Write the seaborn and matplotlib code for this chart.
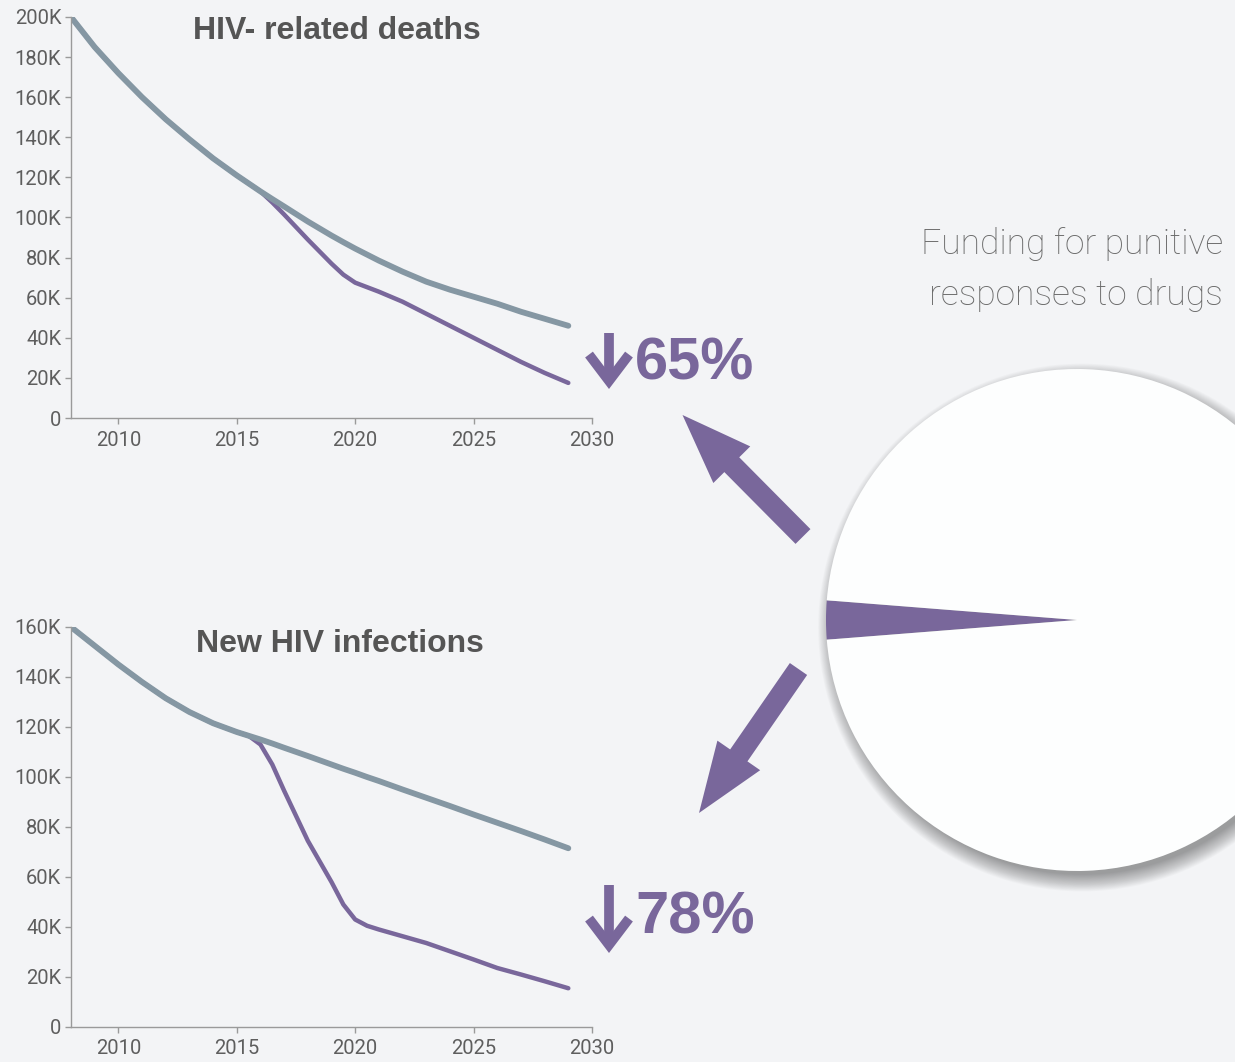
import matplotlib
matplotlib.use("Agg")
import matplotlib.pyplot as plt
import seaborn as sns
import pandas as pd
from matplotlib.patches import FancyArrow, Circle
from matplotlib.ticker import FuncFormatter

# data (values in thousands)
death_years = [2008, 2009, 2010, 2011, 2012, 2013, 2014, 2015, 2016, 2016.5, 2017, 2018,
               2019, 2019.5, 2020, 2021, 2022, 2023, 2024, 2025, 2026, 2027, 2028, 2029]
deaths_no_change = [200, 185, 172, 160, 149, 139, 129.5, 121, 113, 109.2, 105.5, 98,
                    91, 87.7, 84.5, 78.5, 73, 68, 64, 60.5, 57, 53, 49.5, 46]
deaths_reform = [200, 185, 172, 160, 149, 139, 129.5, 121, 113, 107.5, 101.5, 89,
                 77, 71.5, 67.5, 63, 58, 52, 46, 40, 34, 28, 22.5, 17.5]

inf_years = [2008, 2009, 2010, 2011, 2012, 2013, 2014, 2015, 2015.5, 2016, 2016.5, 2017,
             2018, 2019, 2019.5, 2020, 2020.5, 2021, 2022, 2023, 2024, 2025, 2026,
             2027, 2028, 2029]
inf_no_change = [160, 152.5, 145, 138, 131.5, 126, 121.5, 118, 116.5, 115, 113.4, 111.7,
                 108.4, 105, 103.3, 101.7, 100, 98.4, 95, 91.7, 88.4, 85, 81.7,
                 78.4, 75, 71.5]
inf_reform = [160, 152.5, 145, 138, 131.5, 126, 121.5, 118, 116.5, 113, 105, 94.5,
              74.5, 58, 49, 43, 40.5, 39, 36.3, 33.6, 30.3, 27, 23.6,
              21, 18.3, 15.5]

pie_shares = [2.5, 97.5]
pct_labels = ["65%", "78%"]
titles = ["HIV- related deaths", "New HIV infections"]
x_ticks = [2010, 2015, 2020, 2025, 2030]

bg = "#f3f4f6"
purple = "#79679b"
grey_line = "#8597a3"
W, H = 1235, 1062

sns.set_theme(style="ticks", rc={"axes.facecolor": bg, "figure.facecolor": bg})
plt.rcParams["font.family"] = ["Roboto", "DejaVu Sans"]

fig = plt.figure(figsize=(W / 100, H / 100), dpi=100)


def kfmt(v, pos):
    return "0" if v == 0 else f"{int(v / 1000)}K"


def line_panel(rect, years, base, reform, ymax, ystep):
    ax = fig.add_axes(rect)
    df = pd.DataFrame({"year": years,
                       "no_change": [v * 1000 for v in base],
                       "reform": [v * 1000 for v in reform]})
    sns.lineplot(data=df, x="year", y="reform", color=purple, lw=3.2, ax=ax,
                 solid_capstyle="round", solid_joinstyle="round")
    sns.lineplot(data=df, x="year", y="no_change", color=grey_line, lw=4.2, ax=ax,
                 solid_capstyle="round", solid_joinstyle="round")
    ax.set_xlim(2008, 2030)
    ax.set_ylim(0, ymax)
    ax.set_xticks(x_ticks)
    ax.set_yticks(range(0, ymax + 1, ystep))
    ax.yaxis.set_major_formatter(FuncFormatter(kfmt))
    ax.set_xlabel("")
    ax.set_ylabel("")
    sns.despine(ax=ax)
    for s in ("left", "bottom"):
        ax.spines[s].set_color("#9a9a9a")
        ax.spines[s].set_linewidth(1.0)
    ax.tick_params(colors="#9a9a9a", length=4, width=1, labelcolor="#5e5e5e",
                   labelsize=14.5)
    ax.tick_params(axis="y", pad=3)
    ax.tick_params(axis="x", pad=5)
    ax.patch.set_alpha(0)
    return ax


line_panel([71 / W, 1 - 418 / H, 521 / W, 401 / H],
           death_years, deaths_no_change, deaths_reform, 200000, 20000)
line_panel([71 / W, 1 - 1027 / H, 521 / W, 400 / H],
           inf_years, inf_no_change, inf_reform, 160000, 20000)

# pie with soft shadow (axes a bit larger than the disc so the shadow is not clipped)
r = 251
m = 1.2
n_shadow = 20
pax = fig.add_axes([(1077 - m * r) / W, 1 - (620 + m * r) / H, 2 * m * r / W, 2 * m * r / H])
for i in range(n_shadow):
    pax.add_patch(Circle((0.02, -0.03), 0.985 + 0.0035 * i, color="black",
                         alpha=0.02, lw=0, zorder=0))
pax.pie(pie_shares, colors=[purple, "#fdfefe"], startangle=180 - pie_shares[0] * 1.8,
        radius=1, wedgeprops=dict(lw=0))
for w in pax.patches[n_shadow:]:
    w.set_zorder(2)
pax.set_xlim(-m, m)
pax.set_ylim(-m, m)
pax.set_aspect("equal")
pax.axis("off")

# overlay in pixel coordinates for texts and arrows
ov = fig.add_axes([0, 0, 1, 1], zorder=5)
ov.set_xlim(0, W)
ov.set_ylim(H, 0)
ov.axis("off")
ov.patch.set_alpha(0)

title_font = ["Liberation Sans", "DejaVu Sans"]
ov.text(337, 39, titles[0], ha="center", va="baseline", fontsize=23,
        fontweight="bold", color="#555555", family=title_font)
ov.text(340, 652, titles[1], ha="center", va="baseline", fontsize=23,
        fontweight="bold", color="#555555", family=title_font)

ov.text(1223, 254, "Funding for punitive", ha="right", va="baseline", fontsize=25.5,
        fontweight="light", color="#6a6a6a")
ov.text(1223, 305, "responses to drugs", ha="right", va="baseline", fontsize=25.5,
        fontweight="light", color="#6a6a6a")

for lab, top, tip, base in [(pct_labels[0], 333, 389, 380), (pct_labels[1], 885, 953, 933)]:
    ov.annotate("", xy=(609, tip), xytext=(609, top),
                arrowprops=dict(arrowstyle="->,head_length=0.95,head_width=0.72",
                                mutation_scale=20, lw=7, color=purple,
                                shrinkA=0, shrinkB=0, capstyle="butt",
                                joinstyle="miter"))
    ov.text(635, base, lab, ha="left", va="baseline", fontsize=43,
            fontweight="bold", color=purple, family=title_font)

ov.add_patch(FancyArrow(803, 536.5, -120.5, -121.5, width=21, head_width=52,
                        head_length=70, length_includes_head=True, color=purple, lw=0))
ov.add_patch(FancyArrow(798.5, 669, -99.5, 144, width=21, head_width=52,
                        head_length=70, length_includes_head=True, color=purple, lw=0))

fig.savefig("out.png", dpi=100, facecolor=bg)
